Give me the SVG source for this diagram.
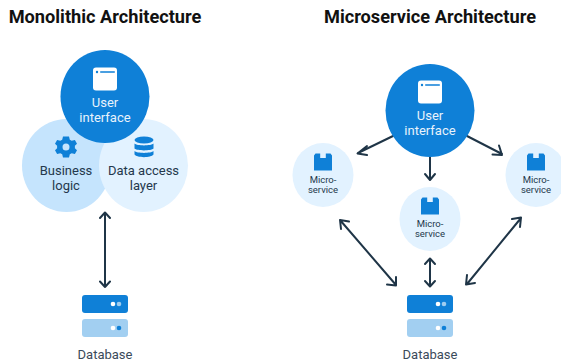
<svg xmlns="http://www.w3.org/2000/svg" width="561" height="362" viewBox="0 0 561 362">
<style>
text{font-family:Roboto,"Liberation Sans",sans-serif;text-anchor:middle}
.title{font-size:18.200px;font-weight:700;fill:#111}
.lbl{font-size:13px;fill:#24384c}
.w{font-size:13px;fill:#e8f3fc}
.ms{font-size:9.500px;fill:#24384c}
.db{font-size:13px;fill:#3a4a5a}
.c{fill:none;stroke:#1f3547;stroke-width:2;stroke-linecap:round;stroke-linejoin:round}
</style>
<defs>
<g id="win"><rect x="-12" y="-11.500" width="24" height="23" rx="3" fill="#fff"/><circle cx="-8" cy="-7" r="1.200" fill="#0f80d7"/><rect x="-5" y="-7.700" width="15" height="1.500" rx=".7" fill="#0f80d7"/></g>
<g id="box"><path d="M-7.500-8.500H-2.800V-4H2.800V-8.500H7.500L9-6.500V8.500H-9V-6.500Z" fill="#0f80d7"/></g>
<g id="dbi"><rect x="0" y="0" width="46" height="18" rx="3" fill="#0f80d7"/><circle cx="31" cy="9" r="2.300" fill="#fff"/><circle cx="37" cy="9" r="2.300" fill="#9fcdf0"/><rect x="0" y="24" width="46" height="18" rx="3" fill="#a2cff1"/><circle cx="31" cy="33" r="2.300" fill="#fff"/><circle cx="37" cy="33" r="2.300" fill="#0f80d7"/></g>
</defs>
<text class="title" x="105" y="23">Monolithic Architecture</text>
<text class="title" x="430" y="23">Microservice Architecture</text>
<g id="connectors">
<path class="c" d="M105 213V287M100 218L105 212.500L110 218M100 281.500L105 287L110 281.500"/>
<path class="c" d="M393 136L358 153M367 146L357.500 153.500L367 155"/>
<path class="c" d="M467 136L502 154M492.500 154.500L502 155L499 145.500"/>
<path class="c" d="M430 157V179M425 174L430 180L435 174"/>
<path class="c" d="M340 220L396 285M341 229L340 220L349 221.500M387 284.500L396 285.500L396 277"/>
<path class="c" d="M521 218L467 284M512 219L521 217.500L520 227M467 275L466 284.500L475 283"/>
<path class="c" d="M430 259V286M425 264L430 258.500L435 264M425 281L430 286.500L435 281"/>
</g>
<g id="mono-business"><ellipse cx="66.500" cy="165.500" rx="44.500" ry="46.500" fill="#c5e4fd"/>
<path transform="translate(66,147)" d="M-3-10.500H3L3.800-7.300L5.700-6.200L8.900-7.100L11-3.200L8.900-1.200V1.200L11 3.200L8.900 7.100L5.700 6.200L3.800 7.300L3 10.500H-3L-3.800 7.300L-5.700 6.200L-8.900 7.100L-11 3.200L-8.900 1.200V-1.200L-11-3.200L-8.900-7.100L-5.700-6.200L-3.800-7.300ZM0-3.500A3.500 3.500 0 1 0 0 3.500A3.500 3.500 0 1 0 0-3.500Z" fill="#0f80d7" fill-rule="evenodd"/>
<text class="lbl" x="66" y="175">Business</text><text class="lbl" x="66" y="190">logic</text></g>
<g id="mono-data"><ellipse cx="143.500" cy="165.500" rx="44.500" ry="46.500" fill="#e2f2ff"/>
<g fill="#0f80d7"><ellipse cx="144" cy="140" rx="9.500" ry="3.500"/><path d="M134.500 143.500C137 146 151 146 153.500 143.500V148.500C151 151 137 151 134.500 148.500Z"/><path d="M134.500 151C137 153.500 151 153.500 153.500 151V154.500C151 158 137 158 134.500 154.500Z"/></g>
<text class="lbl" x="143.500" y="175">Data access</text><text class="lbl" x="143.500" y="190">layer</text></g>
<g id="mono-ui"><ellipse cx="105" cy="96.500" rx="44.500" ry="46.500" fill="#0f80d7"/><use href="#win" x="105" y="79"/>
<text class="w" x="105" y="107">User</text><text class="w" x="105" y="122">interface</text></g>
<g id="mono-db"><use href="#dbi" x="82" y="295"/><text class="db" x="105" y="359">Database</text></g>
<g id="micro-ui"><ellipse cx="430" cy="110.500" rx="44.500" ry="46.500" fill="#0f80d7"/><use href="#win" x="430" y="92"/>
<text class="w" x="430" y="120">User</text><text class="w" x="430" y="135">interface</text></g>
<g id="ms-left"><ellipse cx="323" cy="175" rx="30.500" ry="32" fill="#e2f2ff"/><use href="#box" x="323" y="162"/><text class="ms" x="323" y="183">Micro-</text><text class="ms" x="323" y="193">service</text></g>
<g id="ms-mid"><ellipse cx="430" cy="219" rx="30.500" ry="32" fill="#e2f2ff"/><use href="#box" x="430" y="206"/><text class="ms" x="430" y="227">Micro-</text><text class="ms" x="430" y="237">service</text></g>
<g id="ms-right"><ellipse cx="536" cy="175" rx="30.500" ry="32" fill="#e2f2ff"/><use href="#box" x="536" y="162"/><text class="ms" x="536" y="183">Micro-</text><text class="ms" x="536" y="193">service</text></g>
<g id="micro-db"><use href="#dbi" x="407" y="295"/><text class="db" x="430" y="359">Database</text></g>
</svg>
